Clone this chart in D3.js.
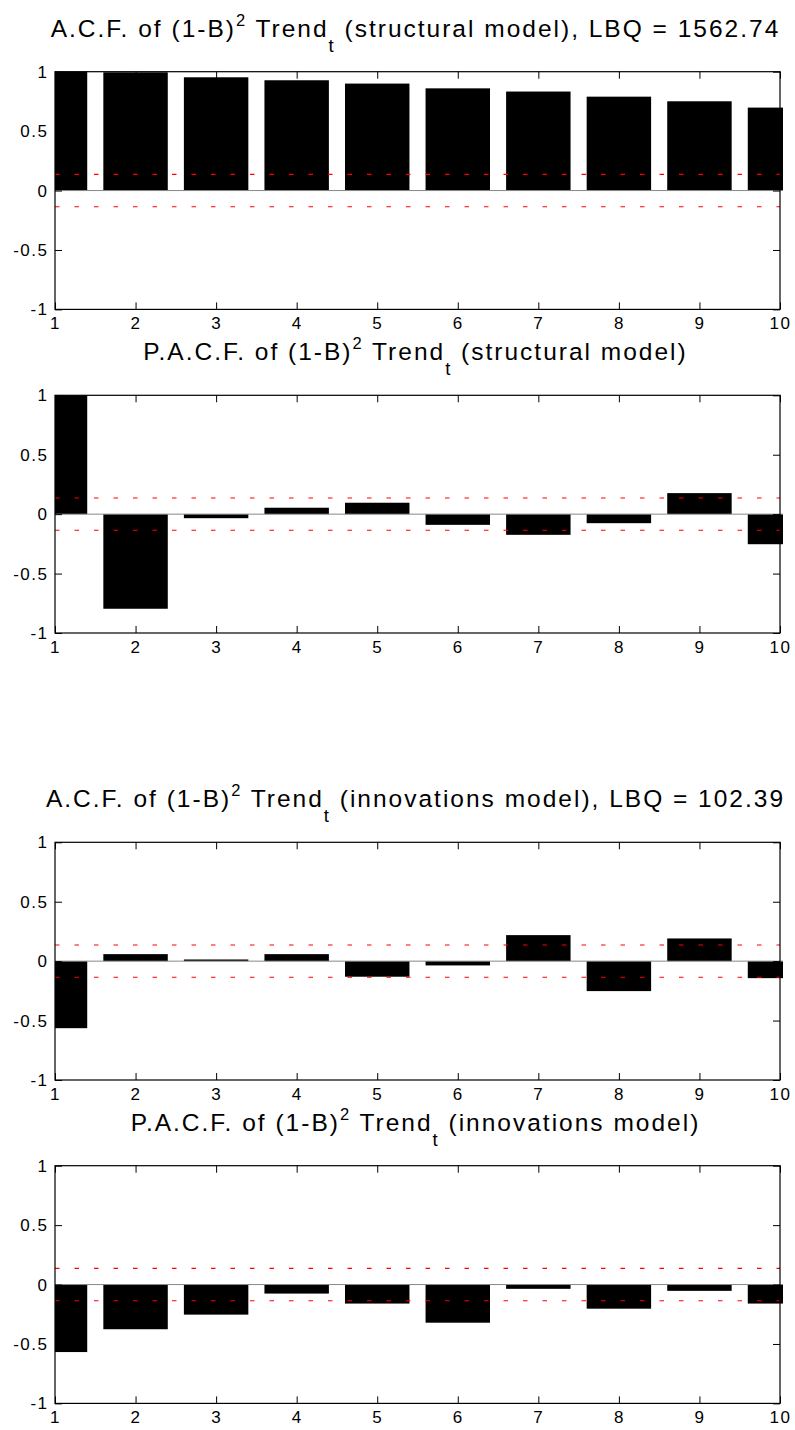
<!DOCTYPE html>
<html>
<head>
<meta charset="utf-8">
<script src="https://cdn.jsdelivr.net/npm/d3@7"></script>
<style>
  body { margin: 0; background: #fff; }
  text { font-family: "Liberation Sans", Arial, Helvetica, sans-serif; fill: #000; }
</style>
</head>
<body>
<div id="graphic"></div>
<script>
// lags on the x axis
var lags = [1, 2, 3, 4, 5, 6, 7, 8, 9, 10];

// correlations
var acf_structural  = [1.0, 0.995, 0.953, 0.928, 0.900, 0.860, 0.833, 0.790, 0.751, 0.698];
var pacf_structural = [1.0, -0.796, -0.034, 0.054, 0.096, -0.090, -0.174, -0.076, 0.177, -0.253];
var acf_innov       = [-0.564, 0.059, 0.014, 0.059, -0.131, -0.036, 0.219, -0.252, 0.191, -0.143];
var pacf_innov      = [-0.568, -0.376, -0.253, -0.076, -0.160, -0.321, -0.036, -0.203, -0.053, -0.160];

// confidence band
var bound = 0.136;

var y_ticks = [-1, -0.5, 0, 0.5, 1];
var y_tick_labels = ["-1", "-0.5", "0", "0.5", "1"];

var titles = [
    { pre: "A.C.F. of (1-B)", post: " (structural model), LBQ = 1562.74" },
    { pre: "P.A.C.F. of (1-B)", post: " (structural model)" },
    { pre: "A.C.F. of (1-B)", post: " (innovations model), LBQ = 102.39" },
    { pre: "P.A.C.F. of (1-B)", post: " (innovations model)" }
];
var series = [acf_structural, pacf_structural, acf_innov, pacf_innov];

var tops = [71.7, 395.3, 842.3, 1165.7];
var plot_h = 237.7;
var left = 55, right = 780;

var svg = d3.select("#graphic")
    .append("svg")
    .attr("width", 795)
    .attr("height", 1430);

var x = d3.scaleLinear().domain([1, 10]).range([left, right]);

svg.append("defs").append("clipPath")
    .attr("id", "clip")
    .append("rect")
    .attr("x", left)
    .attr("y", 0)
    .attr("width", right - left + 3)
    .attr("height", 1430);

series.forEach(function(vals, i) {

    var top = tops[i];
    var bottom = top + plot_h;
    var y = d3.scaleLinear().domain([-1, 1]).range([bottom, top]);
    var g = svg.append("g");

    // title with super- and subscript
    var t = g.append("text")
        .attr("x", (left + right) / 2 - 2)
        .attr("y", top - 35)
        .attr("text-anchor", "middle")
        .style("font-size", "24.5px")
        .style("letter-spacing", "2px");
    t.append("tspan").text(titles[i].pre);
    t.append("tspan").attr("dy", -11).style("font-size", "16.5px").text("2");
    t.append("tspan").attr("dy", 11).text(" Trend");
    t.append("tspan").attr("dy", 15).style("font-size", "18.5px").text("t");
    t.append("tspan").attr("dy", -15).text(titles[i].post);

    // bars
    var bars = g.append("g").attr("clip-path", "url(#clip)");
    bars.selectAll("rect")
        .data(lags)
        .enter().append("rect")
        .attr("x", function(d) { return x(d - 0.4); })
        .attr("width", function(d) { return x(d + 0.4) - x(d - 0.4); })
        .attr("y", function(d, j) { return Math.min(y(vals[j]), y(0)); })
        .attr("height", function(d, j) { return Math.abs(y(vals[j]) - y(0)); })
        .attr("fill", "#000");

    // baseline
    bars.append("line")
        .attr("x1", left).attr("x2", right + 3)
        .attr("y1", y(0)).attr("y2", y(0))
        .attr("stroke", "#888")
        .attr("stroke-width", 1);

    // confidence lines
    [bound, -bound].forEach(function(b) {
        g.append("line")
            .attr("x1", left).attr("x2", right)
            .attr("y1", y(b)).attr("y2", y(b))
            .attr("stroke", "#f00")
            .attr("stroke-width", 1.1)
            .attr("stroke-dasharray", "4.5,15");
    });

    // axes, ticks pointing inward
    var xb = d3.axisBottom(x).tickValues(lags).tickSizeInner(-7).tickSizeOuter(0).tickPadding(8);
    var xt = d3.axisTop(x).tickValues(lags).tickSizeInner(-7).tickSizeOuter(0).tickFormat("");
    var yl = d3.axisLeft(y).tickValues(y_ticks).tickSizeInner(-7).tickSizeOuter(0).tickPadding(6.5)
        .tickFormat(function(d, j) { return y_tick_labels[j]; });
    var yr = d3.axisRight(y).tickValues(y_ticks).tickSizeInner(-7).tickSizeOuter(0).tickFormat("");

    [
        g.append("g").attr("transform", "translate(0," + bottom + ")").call(xb),
        g.append("g").attr("transform", "translate(0," + top + ")").call(xt),
        g.append("g").attr("transform", "translate(" + left + ",0)").call(yl),
        g.append("g").attr("transform", "translate(" + right + ",0)").call(yr)
    ].forEach(function(a) {
        a.select(".domain").remove();
        a.selectAll("line").attr("stroke", "#000");
        a.selectAll("text")
            .style("font-size", "17px")
            .style("letter-spacing", "1.5px")
            .style("font-family", "'Liberation Sans', Arial, sans-serif")
            .attr("fill", "#000");
    });

    // box
    g.append("rect")
        .attr("x", left).attr("y", top)
        .attr("width", right - left).attr("height", plot_h)
        .attr("fill", "none")
        .attr("stroke", "#000")
        .attr("stroke-width", 1.2);
});
</script>
</body>
</html>
